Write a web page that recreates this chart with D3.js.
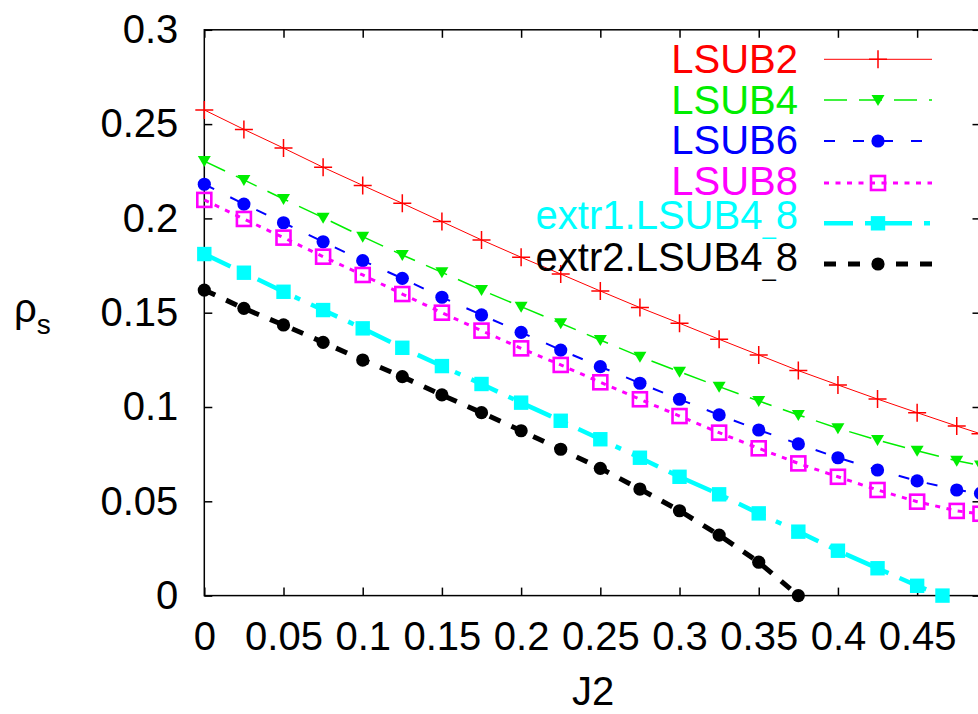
<!DOCTYPE html>
<html>
<head>
<meta charset="utf-8">
<script src="https://cdn.jsdelivr.net/npm/d3@7"></script>
<style>
  body { margin: 0; background: #fff; }
  text { font-family: "Liberation Sans", Arial, sans-serif; }
</style>
</head>
<body>
<div class="chart"></div>
<script>
// J2 values where the LSUB curves are sampled
const j2 = [0, 0.025, 0.05, 0.075, 0.1, 0.125, 0.15, 0.175, 0.2, 0.225, 0.25,
  0.275, 0.3, 0.325, 0.35, 0.375, 0.4, 0.425, 0.45, 0.475, 0.49];
const lsub2 = [0.2575, 0.2472, 0.2373, 0.2271, 0.2175, 0.2080, 0.1983, 0.1886, 0.1794, 0.1705, 0.1615,
  0.1527, 0.1444, 0.1359, 0.1276, 0.1193, 0.1117, 0.1042, 0.0970, 0.0899, 0.0858];
const lsub4 = [0.2304, 0.2204, 0.2103, 0.2004, 0.1903, 0.1806, 0.1714, 0.1620, 0.1532, 0.1444, 0.1355,
  0.1267, 0.1187, 0.1108, 0.1032, 0.0958, 0.0887, 0.0825, 0.0768, 0.0715, 0.0690];
const lsub6 = [0.2181, 0.2076, 0.1977, 0.1876, 0.1776, 0.1682, 0.1582, 0.1488, 0.1396, 0.1302, 0.1214,
  0.1126, 0.1041, 0.0958, 0.0878, 0.0804, 0.0731, 0.0666, 0.0608, 0.0560, 0.0542];
const lsub8 = [0.2098, 0.1997, 0.1898, 0.1797, 0.1700, 0.1599, 0.1500, 0.1405, 0.1311, 0.1223, 0.1131,
  0.1041, 0.0952, 0.0864, 0.0781, 0.0701, 0.0630, 0.0560, 0.0498, 0.0449, 0.0434];

// extrapolations stop where rho_s reaches zero
const j2Extr1 = [0, 0.025, 0.05, 0.075, 0.1, 0.125, 0.15, 0.175, 0.2, 0.225, 0.25,
  0.275, 0.3, 0.325, 0.35, 0.375, 0.4, 0.425, 0.45, 0.466];
const extr1 = [0.1811, 0.1712, 0.1611, 0.1514, 0.1417, 0.1314, 0.1217, 0.1122, 0.1023, 0.0927, 0.0829,
  0.0731, 0.0630, 0.0537, 0.0436, 0.0339, 0.0238, 0.0145, 0.0052, 0];
const j2Extr2 = [0, 0.025, 0.05, 0.075, 0.1, 0.125, 0.15, 0.175, 0.2, 0.225, 0.25,
  0.275, 0.3, 0.325, 0.35, 0.375];
const extr2 = [0.1620, 0.1523, 0.1435, 0.1343, 0.1249, 0.1161, 0.1064, 0.0970, 0.0874, 0.0776, 0.0675,
  0.0565, 0.0450, 0.0321, 0.0177, 0];

const xTicks = [0, 0.05, 0.1, 0.15, 0.2, 0.25, 0.3, 0.35, 0.4, 0.45];
const yTicks = [0, 0.05, 0.1, 0.15, 0.2, 0.25, 0.3];
const xTickLabels = ["0", "0.05", "0.1", "0.15", "0.2", "0.25", "0.3", "0.35", "0.4", "0.45"];
const yTickLabels = ["0", "0.05", "0.1", "0.15", "0.2", "0.25", "0.3"];

const series = [
  { name: "LSUB2", xs: j2, ys: lsub2, color: "#ff0000", width: 1, dash: null, mark: "plus" },
  { name: "LSUB4", xs: j2, ys: lsub4, color: "#00ee00", width: 1.5, dash: "23,12", mark: "tri" },
  { name: "LSUB6", xs: j2, ys: lsub6, color: "#0000ff", width: 2, dash: "11,18", mark: "circle" },
  { name: "LSUB8", xs: j2, ys: lsub8, color: "#ff00ff", width: 3, dash: "5,6.5", mark: "opensq" },
  { name: "extr1.LSUB4_8", xs: j2Extr1, ys: extr1, color: "#00ffff", width: 4.5, dash: "29,12,6,12", mark: "square" },
  { name: "extr2.LSUB4_8", xs: j2Extr2, ys: extr2, color: "#000000", width: 5, dash: "12,12", mark: "circle" }
];

const svg = d3.select(".chart").append("svg").attr("width", 978).attr("height", 714);

const x = d3.scaleLinear().domain([0, 0.49]).range([204.3, 980.5]);
const y = d3.scaleLinear().domain([0, 0.3]).range([595.6, 29.8]);

// frame and ticks on all four sides (ticks point inward)
svg.append("rect")
  .attr("x", x(0)).attr("y", y(0.3))
  .attr("width", x(0.49) - x(0)).attr("height", y(0) - y(0.3))
  .attr("fill", "none").attr("stroke", "#000").attr("stroke-width", 1.5);

const axBottom = svg.append("g").attr("transform", `translate(0,${y(0)})`)
  .call(d3.axisBottom(x).tickValues(xTicks).tickSizeInner(-8).tickSizeOuter(0).tickPadding(26)
    .tickFormat((d, i) => xTickLabels[i]));
const axLeft = svg.append("g").attr("transform", `translate(${x(0)},0)`)
  .call(d3.axisLeft(y).tickValues(yTicks).tickSizeInner(-8).tickSizeOuter(0).tickPadding(26)
    .tickFormat((d, i) => yTickLabels[i]));
const axTop = svg.append("g").attr("transform", `translate(0,${y(0.3)})`)
  .call(d3.axisTop(x).tickValues(xTicks).tickSizeInner(-8).tickSizeOuter(0).tickFormat(""));
const axRight = svg.append("g").attr("transform", `translate(${x(0.49)},0)`)
  .call(d3.axisRight(y).tickValues(yTicks).tickSizeInner(-8).tickSizeOuter(0).tickFormat(""));

[axBottom, axLeft, axTop, axRight].forEach(g => {
  g.select(".domain").remove();
  g.selectAll(".tick line").attr("stroke", "#000").attr("stroke-width", 1.5);
  g.selectAll("text").attr("font-size", 40).attr("fill", "#000")
    .attr("font-family", "'Liberation Sans', Arial, sans-serif");
});

// axis titles
svg.append("text").attr("x", 593).attr("y", 705).attr("text-anchor", "middle")
  .attr("font-size", 40).text("J2");
const ylab = svg.append("text").attr("x", 14).attr("y", 322).attr("font-size", 40);
ylab.append("tspan").text("ρ");
ylab.append("tspan").attr("font-size", 28).attr("dy", 12).text("s");

// markers
function drawMark(g, kind, cx, cy, color) {
  if (kind === "plus") {
    g.append("path").attr("d", `M${cx - 9},${cy}h18M${cx},${cy - 9}v18`)
      .attr("stroke", color).attr("stroke-width", 1.5).attr("fill", "none");
  } else if (kind === "tri") {
    g.append("path").attr("d", `M${cx - 6.5},${cy - 5}L${cx + 6.5},${cy - 5}L${cx},${cy + 6}Z`)
      .attr("fill", color);
  } else if (kind === "circle") {
    g.append("circle").attr("cx", cx).attr("cy", cy).attr("r", 6.6).attr("fill", color);
  } else if (kind === "opensq") {
    g.append("rect").attr("x", cx - 7).attr("y", cy - 7).attr("width", 14).attr("height", 14)
      .attr("fill", "none").attr("stroke", color).attr("stroke-width", 2.6);
  } else if (kind === "square") {
    g.append("rect").attr("x", cx - 7.2).attr("y", cy - 7.2).attr("width", 14.4).attr("height", 14.4)
      .attr("fill", color);
  }
}

const line = d3.line().x(d => x(d[0])).y(d => y(d[1]));

series.forEach(s => {
  const pts = s.xs.map((v, i) => [v, s.ys[i]]);
  const g = svg.append("g");
  g.append("path")
    .attr("d", line(pts))
    .attr("fill", "none")
    .attr("stroke", s.color)
    .attr("stroke-width", s.width)
    .attr("stroke-dasharray", s.dash);
  pts.forEach(p => drawMark(g, s.mark, x(p[0]), y(p[1]), s.color));
});

// legend
const legendRows = [59.3, 100, 141, 183, 223.3, 264];
const legendBase = [72.7, 113.5, 154, 195, 229, 270.5];
series.forEach((s, i) => {
  const t = svg.append("text")
    .attr("x", 798).attr("y", legendBase[i])
    .attr("text-anchor", "end")
    .attr("font-size", 40)
    .attr("fill", s.color);
  const parts = s.name.split("_");
  if (parts.length === 1) {
    t.text(s.name);
  } else {
    t.append("tspan").text(parts[0]);
    t.append("tspan").attr("font-size", 24).attr("dy", 5).text("_");
    t.append("tspan").attr("dy", -5).text(parts[1]);
  }
  svg.append("path")
    .attr("d", `M824,${legendRows[i]}H932`)
    .attr("fill", "none")
    .attr("stroke", s.color)
    .attr("stroke-width", s.width)
    .attr("stroke-dasharray", s.dash);
  drawMark(svg, s.mark, 878, legendRows[i], s.color);
});
</script>
</body>
</html>
